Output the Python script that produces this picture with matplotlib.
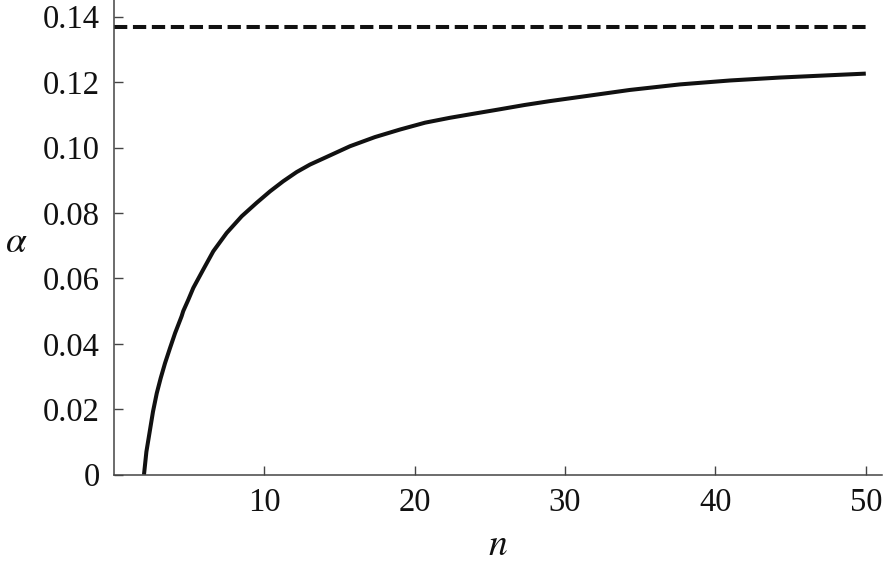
import matplotlib
matplotlib.use("Agg")
import matplotlib.pyplot as plt

# Values
n_vals = [2.0, 2.16, 2.4, 2.6, 2.85, 3.11, 3.4, 3.73, 4.07, 4.5, 4.61, 4.95,
          5.28, 5.94, 6.61, 7.5, 8.5, 9.49, 10.38, 11.26, 12.15, 13.04, 14.04,
          15.7, 17.36, 19.02, 20.69, 22.35, 24.0, 25.67, 27.3, 29.0, 31.66,
          34.3, 37.64, 40.97, 44.3, 47.6, 50.0]
alpha_vals = [0.0, 0.0070, 0.0137, 0.0193, 0.0249, 0.0295, 0.0341, 0.0387,
              0.0433, 0.0484, 0.0500, 0.0535, 0.0571, 0.0627, 0.0683, 0.0739,
              0.0790, 0.0831, 0.0866, 0.0897, 0.0925, 0.0948, 0.0969, 0.1004,
              0.1032, 0.1055, 0.1076, 0.1091, 0.1104, 0.1117, 0.1130, 0.1142,
              0.1159, 0.1176, 0.1193, 0.1205, 0.1214, 0.1221, 0.1226]
alpha_limit = 0.1368
limit_n_range = [0.0, 50.0]

x_ticks = [10, 20, 30, 40, 50]
y_ticks = [0, 0.02, 0.04, 0.06, 0.08, 0.10, 0.12, 0.14]
y_tick_labels = ["0", "0.02", "0.04", "0.06", "0.08", "0.10", "0.12", "0.14"]

plt.rcParams["font.family"] = ["Liberation Serif", "DejaVu Serif"]
plt.rcParams["mathtext.fontset"] = "stix"

fig = plt.figure(figsize=(8.83, 5.67), dpi=100)
ax = fig.add_axes([0.129, 0.1628, 0.8694, 0.8372])

ax.plot(n_vals, alpha_vals, color="#111111", lw=2.9, solid_capstyle="butt",
        solid_joinstyle="round")
ax.plot(limit_n_range, [alpha_limit, alpha_limit], color="#111111", lw=2.9,
        dashes=(3.3, 1.4))

ax.set_xlim(0, 51.05)
ax.set_ylim(0, 0.1451)

for s in ["top", "right"]:
    ax.spines[s].set_visible(False)
for s in ["left", "bottom"]:
    ax.spines[s].set_color("#444444")
    ax.spines[s].set_linewidth(1.1)

ax.set_xticks(x_ticks)
ax.set_yticks(y_ticks)
ax.set_yticklabels(y_tick_labels)
ax.tick_params(direction="in", length=6.5, width=1.0, color="#444444",
               labelsize=23.5, labelcolor="#111111")
ax.tick_params(axis="y", pad=10)
ax.tick_params(axis="x", pad=9)

ax.set_xlabel(r"$n$", fontsize=27, color="#111111", va="center")
ax.xaxis.set_label_coords(0.5, -0.150)
ax.set_ylabel(r"$\alpha$", fontsize=27, color="#111111", rotation=0,
              ha="center", va="center")
ax.yaxis.set_label_coords(-0.1277, 0.488)

fig.savefig("out.png", dpi=100)
